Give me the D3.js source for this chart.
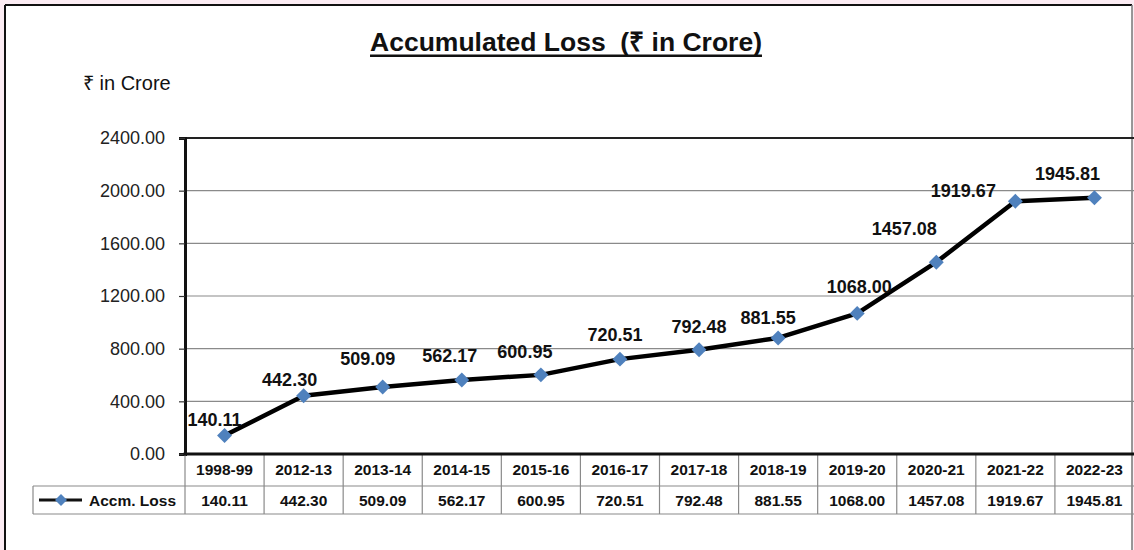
<!DOCTYPE html>
<html>
<head>
<meta charset="utf-8">
<script src="https://cdn.jsdelivr.net/npm/d3@7"></script>
<style>
  html, body { margin: 0; padding: 0; background: #ffffff; }
  svg { display: block; font-family: "Liberation Sans", Arial, sans-serif; }
  text { white-space: pre; }
</style>
</head>
<body>
<svg id="chart" width="1134" height="550"></svg>
<script>
// Financial years shown along the category axis
const years = ["1998-99", "2012-13", "2013-14", "2014-15", "2015-16", "2016-17",
               "2017-18", "2018-19", "2019-20", "2020-21", "2021-22", "2022-23"];

// Accumulated loss, ₹ in crore
const accmLoss = [140.11, 442.30, 509.09, 562.17, 600.95, 720.51,
                  792.48, 881.55, 1068.00, 1457.08, 1919.67, 1945.81];

// Value-axis ticks
const yTicks = [0, 400, 800, 1200, 1600, 2000, 2400];

const seriesName = "Accm. Loss";
const titleText = "Accumulated Loss  (₹ in Crore)";
const unitText = "₹ in Crore";

// Hand-placed label nudges (dx, dy of baseline relative to the marker)
const labelNudge = [[-10, -10], [-14, -10], [-15, -22], [-12, -18], [-16, -17], [-5, -18],
                    [0, -17], [-10, -14], [2, -20], [-32, -27], [-52, -4], [-27, -18]];

const svg = d3.select("#chart");
const W = 1134, H = 550;
const plot = { left: 185, right: 1134, top: 138, bottom: 454 };
const tableRow1 = 486, tableRow2 = 514, legendLeft = 33;
const blue = "#4F81BD";
const grid = "#8a8a8a";

// Page frame
svg.append("rect").attr("x", 0).attr("y", 0).attr("width", W).attr("height", H).attr("fill", "#fcecf3");
svg.append("rect").attr("x", 5).attr("y", 5).attr("width", 1127).attr("height", H).attr("fill", "#ffffff");
svg.append("line").attr("x1", 5).attr("x2", 1132).attr("y1", 5).attr("y2", 5).attr("stroke", "#111").attr("stroke-width", 2);
svg.append("line").attr("x1", 5).attr("x2", 5).attr("y1", 5).attr("y2", H).attr("stroke", "#111").attr("stroke-width", 2);
svg.append("line").attr("x1", 1132).attr("x2", 1132).attr("y1", 5).attr("y2", H).attr("stroke", "#777").attr("stroke-width", 1.5);

// Scales
const x = d3.scaleBand().domain(years).range([plot.left, plot.right]);
const y = d3.scaleLinear().domain([0, 2400]).range([plot.bottom, plot.top]);

// Title with underline
const title = svg.append("text")
  .attr("x", 566).attr("y", 51)
  .attr("text-anchor", "middle")
  .attr("font-size", 26.5).attr("font-weight", "bold").attr("fill", "#111")
  .text(titleText);
const tw = title.node().getComputedTextLength();
svg.append("rect").attr("x", 566 - tw / 2).attr("y", 54.5).attr("width", tw).attr("height", 2.5).attr("fill", "#111");

// Unit label
svg.append("text").attr("x", 83).attr("y", 90)
  .attr("font-size", 20).attr("fill", "#111").text(unitText);

// Gridlines
svg.append("g").selectAll("line").data(yTicks.filter(t => t > 0 && t < 2400)).join("line")
  .attr("x1", plot.left).attr("x2", plot.right)
  .attr("y1", d => y(d)).attr("y2", d => y(d))
  .attr("stroke", grid).attr("stroke-width", 1.2);

// Plot border top
svg.append("line").attr("x1", plot.left).attr("x2", plot.right)
  .attr("y1", y(2400)).attr("y2", y(2400)).attr("stroke", "#222").attr("stroke-width", 2);

// Value axis
const yAxis = svg.append("g").attr("transform", `translate(${plot.left},0)`)
  .call(d3.axisLeft(y).tickValues(yTicks).tickFormat(d3.format(".2f")).tickSize(6).tickPadding(14));
yAxis.select(".domain").attr("stroke", "#111").attr("stroke-width", 3);
yAxis.selectAll(".tick line").attr("stroke", "#333").attr("stroke-width", 1.2);
yAxis.selectAll(".tick text").attr("font-size", 18).attr("fill", "#222")
  .attr("font-family", "Liberation Sans, Arial, sans-serif");

// Data table grid
const tbl = svg.append("g");
tbl.append("line").attr("x1", legendLeft).attr("x2", plot.right).attr("y1", tableRow1).attr("y2", tableRow1)
  .attr("stroke", grid).attr("stroke-width", 1.2);
tbl.append("line").attr("x1", legendLeft).attr("x2", plot.right).attr("y1", tableRow2).attr("y2", tableRow2)
  .attr("stroke", grid).attr("stroke-width", 1.2);
tbl.append("line").attr("x1", legendLeft).attr("x2", legendLeft).attr("y1", tableRow1).attr("y2", tableRow2)
  .attr("stroke", grid).attr("stroke-width", 1.2);
tbl.selectAll("line.col").data(years).join("line").attr("class", "col")
  .attr("x1", d => x(d)).attr("x2", d => x(d))
  .attr("y1", plot.bottom).attr("y2", tableRow2)
  .attr("stroke", grid).attr("stroke-width", 1.2);

// Category labels (header row)
tbl.selectAll("text.cat").data(years).join("text").attr("class", "cat")
  .attr("x", d => x(d) + x.bandwidth() / 2).attr("y", 475)
  .attr("text-anchor", "middle").attr("font-size", 15.5).attr("font-weight", "bold").attr("fill", "#111")
  .text(d => d);

// Value row
tbl.selectAll("text.val").data(accmLoss).join("text").attr("class", "val")
  .attr("x", (d, i) => x(years[i]) + x.bandwidth() / 2).attr("y", 506)
  .attr("text-anchor", "middle").attr("font-size", 15.5).attr("font-weight", "bold").attr("fill", "#111")
  .text(d => d.toFixed(2));

// Legend key in table
const diamond = d3.symbol().type(d3.symbolSquare).size(112);
tbl.append("line").attr("x1", 39).attr("x2", 82).attr("y1", 500).attr("y2", 500)
  .attr("stroke", "#111").attr("stroke-width", 3);
tbl.append("path").attr("d", d3.symbol().type(d3.symbolSquare).size(72)())
  .attr("transform", "translate(61,500) rotate(45)").attr("fill", blue);
tbl.append("text").attr("x", 89).attr("y", 506)
  .attr("font-size", 15.5).attr("font-weight", "bold").attr("fill", "#111").text(seriesName);

// X axis line (top of table)
svg.append("line").attr("x1", plot.left - 1.5).attr("x2", plot.right)
  .attr("y1", plot.bottom).attr("y2", plot.bottom).attr("stroke", "#111").attr("stroke-width", 3);

// Series line
const cx = (d, i) => x(years[i]) + x.bandwidth() / 2;
const line = d3.line().x(cx).y(d => y(d));
svg.append("path").datum(accmLoss).attr("d", line)
  .attr("fill", "none").attr("stroke", "#000").attr("stroke-width", 4.5)
  .attr("stroke-linejoin", "round");

// Markers
svg.append("g").selectAll("path").data(accmLoss).join("path")
  .attr("d", diamond())
  .attr("transform", (d, i) => `translate(${cx(d, i)},${y(d)}) rotate(45)`)
  .attr("fill", blue);

// Data labels
svg.append("g").selectAll("text").data(accmLoss).join("text")
  .attr("x", (d, i) => cx(d, i) + labelNudge[i][0])
  .attr("y", (d, i) => y(d) + labelNudge[i][1])
  .attr("text-anchor", "middle").attr("font-size", 18).attr("font-weight", "bold").attr("fill", "#111")
  .text(d => d.toFixed(2));
</script>
</body>
</html>
